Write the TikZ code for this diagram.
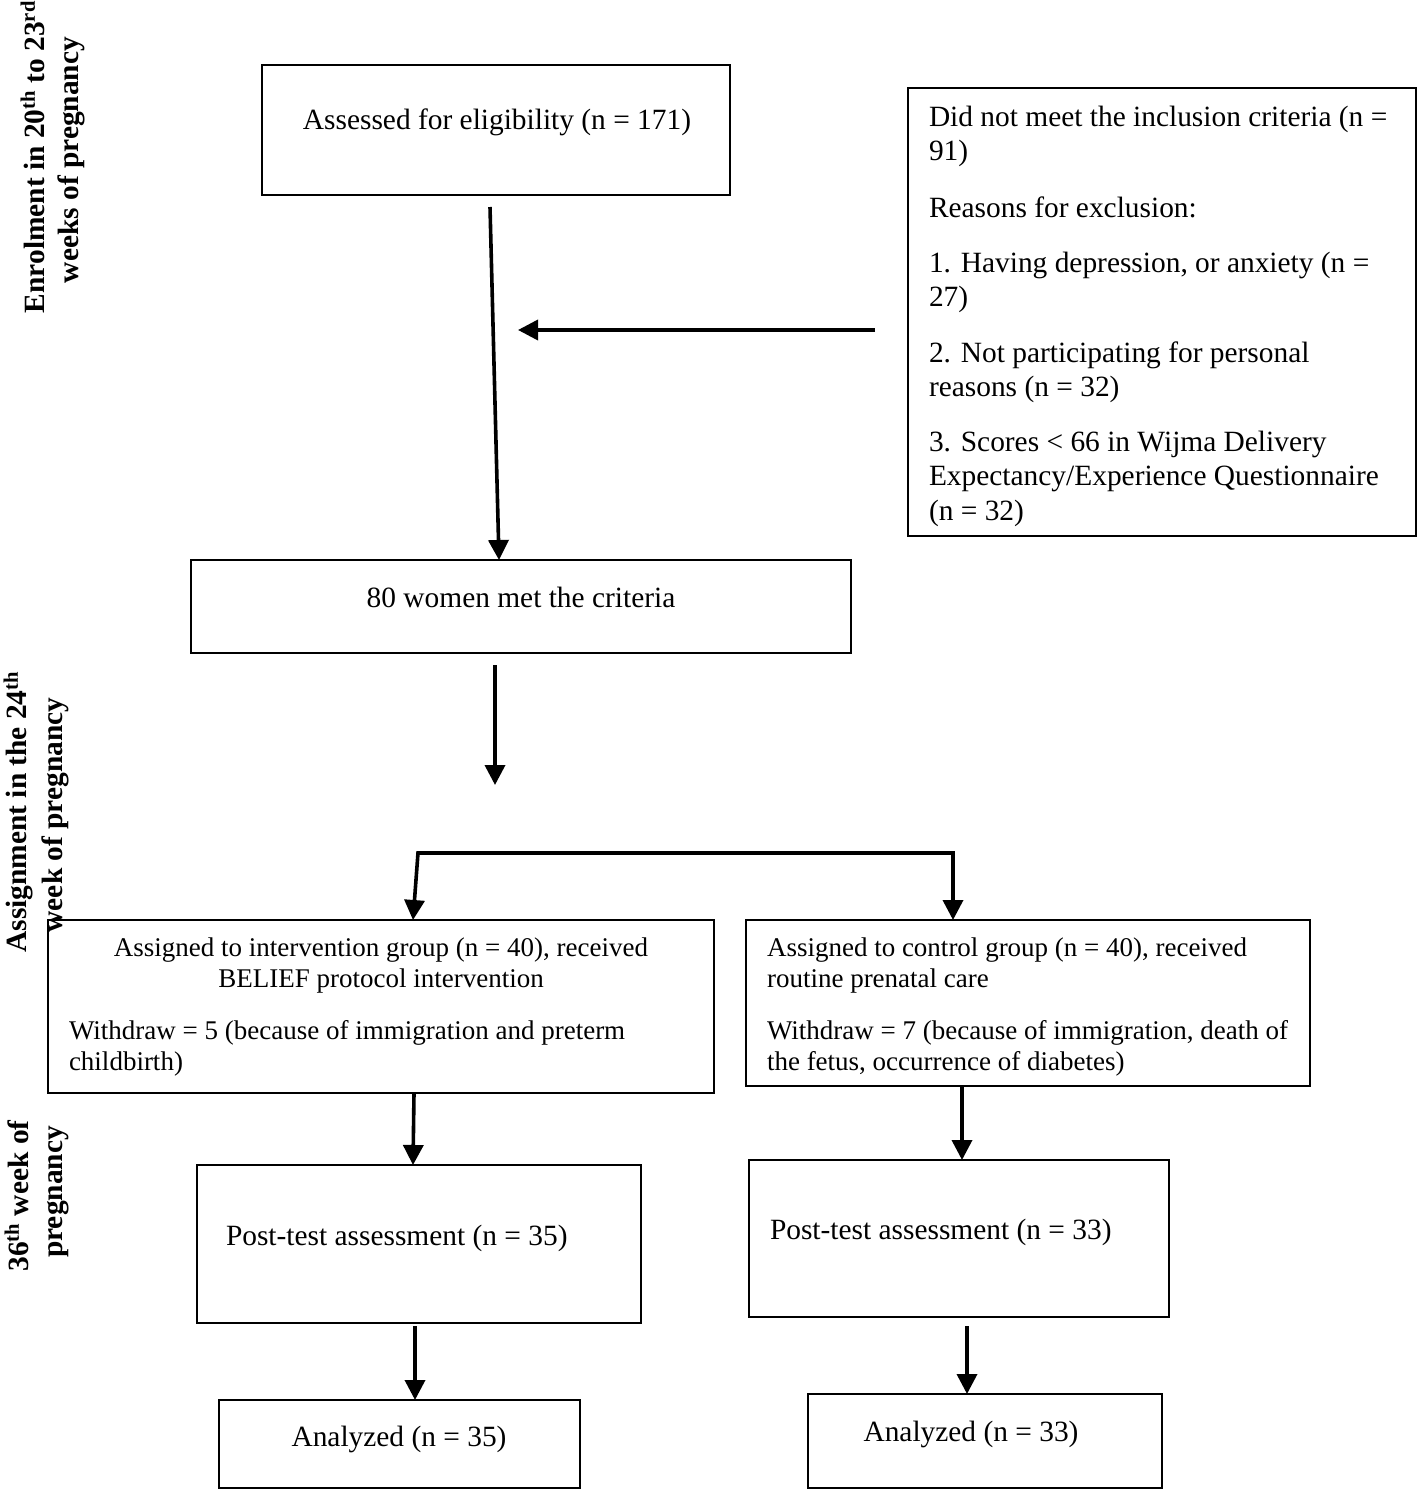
\documentclass[tikz,border=0pt]{standalone}
\usepackage{fontspec}
\setmainfont{Liberation Serif}
\usetikzlibrary{arrows.meta,calc}
\begin{document}
\begin{tikzpicture}[x=1pt,y=-1pt,
  box/.style={draw=black,line width=2.5pt,inner sep=0pt,outer sep=0pt},
  txt/.style={inner sep=0pt,outer sep=0pt,font=\fontsize{29.4}{34}\selectfont},
  stxt/.style={inner sep=0pt,outer sep=0pt,font=\fontsize{27}{31}\selectfont},
  lab/.style={inner sep=0pt,outer sep=0pt,rotate=90,anchor=base,font=\fontsize{29.4}{34}\selectfont\bfseries},
  arr/.style={line width=3.6pt,-{Triangle[length=20pt,width=20pt]}},
  darr/.style={line width=3.6pt,{Triangle[length=20pt,width=20pt]}-{Triangle[length=20pt,width=20pt]}}]
\useasboundingbox[fill=white] (0,0) rectangle (1419,1490);
% boxes
\node[box,minimum width=468pt,minimum height=130pt] (A) at (496,130) {};
\node[box,minimum width=508pt,minimum height=448pt] (B) at (1162,312) {};
\node[box,minimum width=660pt,minimum height=93pt] (C) at (521,606.5) {};
\node[box,minimum width=666pt,minimum height=173pt] (D) at (381,1006.5) {};
\node[box,minimum width=564pt,minimum height=166pt] (E) at (1028,1003) {};
\node[box,minimum width=444pt,minimum height=158pt] (F) at (419,1244) {};
\node[box,minimum width=420pt,minimum height=157pt] (G) at (959,1238.5) {};
\node[box,minimum width=361pt,minimum height=88pt] (H) at (399.5,1444) {};
\node[box,minimum width=354pt,minimum height=94pt] (I) at (985,1441) {};
% texts
\node[txt,anchor=base] (tA) at (497,130) {Assessed for eligibility (n = 171)};
\node[txt,anchor=base west] (tB1) at (929,127) {Did not meet the inclusion criteria (n =};
\node[txt,anchor=base west] (tB2) at (929,161) {91)};
\node[txt,anchor=base west] (tB3) at (929,217) {Reasons for exclusion:};
\node[txt,anchor=base west] (tB4) at (929,272) {1. Having depression, or anxiety (n =};
\node[txt,anchor=base west] (tB5) at (929,306) {27)};
\node[txt,anchor=base west] (tB6) at (929,362) {2. Not participating for personal};
\node[txt,anchor=base west] (tB7) at (929,396) {reasons (n = 32)};
\node[txt,anchor=base west] (tB8) at (929,451) {3. Scores < 66 in Wijma Delivery};
\node[txt,anchor=base west] (tB9) at (929,485) {Expectancy/Experience Questionnaire};
\node[txt,anchor=base west] (tB10) at (929,520) {(n = 32)};
\node[txt,anchor=base] (tC) at (521,607) {80 women met the criteria};
\node[stxt,anchor=base] (tD1) at (381,956) {Assigned to intervention group (n = 40), received};
\node[stxt,anchor=base] (tD2) at (381,987) {BELIEF protocol intervention};
\node[stxt,anchor=base west] (tD3) at (69,1039) {Withdraw = 5 (because of immigration and preterm};
\node[stxt,anchor=base west] (tD4) at (69,1070) {childbirth)};
\node[stxt,anchor=base west] (tE1) at (767,956) {Assigned to control group (n = 40), received};
\node[stxt,anchor=base west] (tE2) at (767,987) {routine prenatal care};
\node[stxt,anchor=base west] (tE3) at (767,1039) {Withdraw = 7 (because of immigration, death of};
\node[stxt,anchor=base west] (tE4) at (767,1070) {the fetus, occurrence of diabetes)};
\node[txt,anchor=base west] (tF) at (226,1245) {Post-test assessment (n = 35)};
\node[txt,anchor=base west] (tG) at (770,1239) {Post-test assessment (n = 33)};
\node[txt,anchor=base] (tH) at (399,1446) {Analyzed (n = 35)};
\node[txt,anchor=base] (tI) at (971,1441) {Analyzed (n = 33)};
% side labels
\node[lab] (l1a) at (44,157) {Enrolment in 20\textsuperscript{th} to 23\textsuperscript{rd}};
\node[lab] (l1b) at (78,160) {weeks of pregnancy};
\node[lab] (l2a) at (27,812) {Assignment in the 24\textsuperscript{th}};
\node[lab] (l2b) at (62,815) {week of pregnancy};
\node[lab] (l3a) at (28,1196) {36\textsuperscript{th} week of};
\node[lab] (l3b) at (62,1192) {pregnancy};
% connectors
\draw[arr] ($(A.south)+(-6,12)$) -- ($(C.north west)+(308,0)$);
\draw[arr] ($(B.west)+(-33,18)$) -- ($(B.west)+(-390,18)$);
\draw[arr] ($(C.south)+(-26,12)$) -- ($(C.south)+(-26,132)$);
\draw[darr] ($(D.north)+(32,0)$) -- ($(D.north)+(37,-67)$) -- ($(E.north)+(-75,-67)$) -- ($(E.north)+(-75,0)$);
\draw[arr] ($(D.south)+(33,0)$) -- ($(F.north)+(-6,0)$);
\draw[arr] ($(E.south)+(-66,0)$) -- ($(G.north)+(3,0)$);
\draw[arr] ($(F.south)+(-4,3)$) -- ($(H.north)+(15.5,0)$);
\draw[arr] ($(G.south)+(8,9)$) -- ($(I.north)+(-18,0)$);
\end{tikzpicture}
\end{document}
